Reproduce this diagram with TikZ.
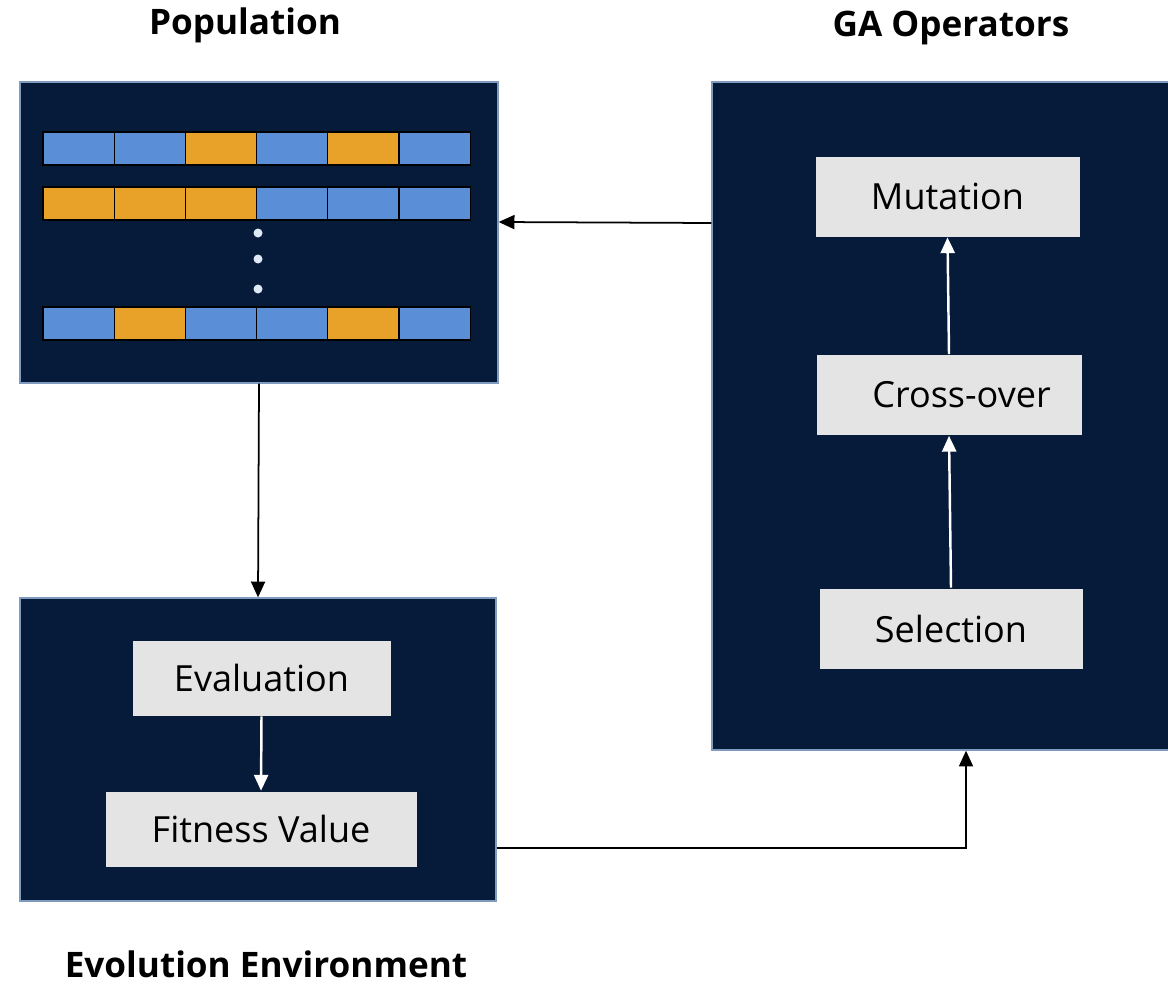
\documentclass[tikz,border=0pt]{standalone}
\usepackage{fontspec}
\setmainfont{Open Sans}
\usepackage{tikz}
\usetikzlibrary{arrows.meta}

\definecolor{navy}{HTML}{061A3A}
\definecolor{edgeblue}{HTML}{7F9CC0}
\definecolor{geneb}{HTML}{5A8ED6}
\definecolor{geneo}{HTML}{E8A22A}
\definecolor{labelgray}{HTML}{E4E4E4}

\tikzset{
  panel/.style={draw=edgeblue, fill=navy, line width=0.8pt, inner sep=0pt},
  opbox/.style={draw=navy, fill=labelgray, inner sep=0pt, minimum height=1.62cm,
    font=\fontsize{20.5}{24}\selectfont},
  title/.style={font=\fontsize{20}{24}\selectfont\bfseries, inner sep=1pt},
  flow/.style={-{Triangle[length=9pt,width=8pt]}, line width=1pt},
  innerflow/.style={flow, draw=white, line width=1.4pt}
}

\begin{document}
\begin{tikzpicture}[x=0.02cm, y=-0.02cm]
\useasboundingbox (0,0) rectangle (1168,984);

% titles
\node[title] (poptitle) at (245,25) {Population};
\node[title] (gatitle) at (951,28) {GA Operators};
\node[title] (envtitle) at (266,964) {Evolution Environment};

% panels
\node[panel, minimum width=9.56cm, minimum height=6.02cm] (pop) at (259,232.5) {};
\node[panel, minimum width=9.2cm, minimum height=13.36cm] (ga) at (942,416) {};
\node[panel, minimum width=9.52cm, minimum height=6.06cm] (env) at (258,749.5) {};

% chromosomes
\foreach \top/\genes in {132/{b,b,o,b,o,b}, 187/{o,o,o,b,b,b}, 307/{b,o,b,b,o,b}} {
  \foreach \g [count=\i from 0] in \genes
    \filldraw[fill=gene\g, draw=black, line width=0.7pt]
      ({43+71.2*\i},\top) rectangle ({43+71.2*(\i+1)},\top+33);
}
\foreach \y in {233,259,289}
  \fill[white!80!geneb] (258,\y) circle (4.5);

% operators
\node[opbox, minimum width=5.3cm] (mut) at (947.5,196.5) {Mutation};
\node[opbox, minimum width=5.32cm] (cross) at (949,395) {\hspace*{0.5cm}Cross-over};
\node[opbox, minimum width=5.28cm] (sel) at (951,628.5) {Selection};
\node[opbox, minimum width=5.18cm, minimum height=1.52cm] (eval) at (261.5,678) {Evaluation};
\node[opbox, minimum width=6.24cm, minimum height=1.52cm] (fit) at (261,829) {Fitness Value};

% connectors
\draw[innerflow] (sel.north) -- (cross.south);
\draw[innerflow] (cross.north) -- (mut.south);
\draw[innerflow] (eval.south) -- (fit.south |- fit.north);
\draw[flow] (ga.west |- 0,223) -- (pop.east |- 0,222);
\draw[flow] (pop.south) -- (env.north);
\coordinate (turn) at (966,848);
\draw[flow] (env.east |- turn) -- (turn) -- (turn |- ga.south);
\end{tikzpicture}
\end{document}
